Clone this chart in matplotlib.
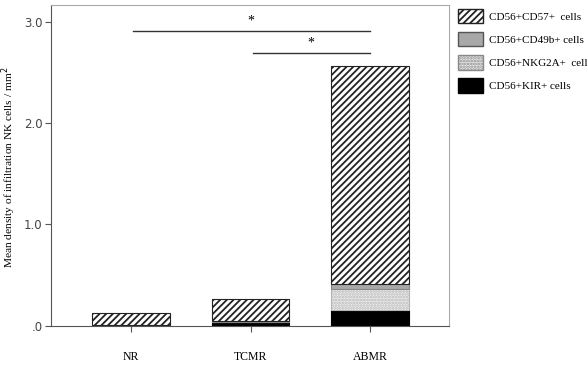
import numpy as np
import matplotlib
matplotlib.use("Agg")
import matplotlib.pyplot as plt
from matplotlib.patches import Patch

plt.rcParams['hatch.linewidth'] = 1.3
plt.rcParams['hatch.color'] = '#222222'

# data
groups = ['NR', 'TCMR', 'ABMR']
kir = [0.01, 0.04, 0.15]
nkg2a = [0.0, 0.0, 0.21]
cd49b = [0.0, 0.005, 0.05]
cd57 = [0.118, 0.215, 2.16]
legend_labels = ['CD56+CD57+  cells', 'CD56+CD49b+ cells', 'CD56+NKG2A+  cells', 'CD56+KIR+ cells']
y_ticks = [0.0, 1.0, 2.0, 3.0]
y_ticklabels = ['.0', '1.0', '2.0', '3.0']
sig_pairs = [(0, 2, 2.91), (1, 2, 2.69)]

serif = 'Liberation Serif'

fig = plt.figure(figsize=(5.87, 3.76), dpi=100)
ax = fig.add_axes([0.0869, 0.134, 0.678, 0.853])

x = np.arange(len(groups))
w = 0.65
bottom = np.zeros(len(groups))
ax.bar(x, kir, w, bottom=bottom, color='black', edgecolor='black', linewidth=0.8)
bottom += kir
ax.bar(x, nkg2a, w, bottom=bottom, color='#f0f0f0', edgecolor='#b5b5b5', hatch='......', linewidth=0.8)
bottom += nkg2a
ax.bar(x, cd49b, w, bottom=bottom, color='#a8a8a8', edgecolor='#888888', linewidth=0.8)
bottom += cd49b
ax.bar(x, cd57, w, bottom=bottom, color='white', edgecolor='#222222', hatch='/////', linewidth=0.8)

for a, b, yy in sig_pairs:
    ax.plot([a + 0.02, b], [yy, yy], color='#333333', lw=1.0)
    ax.text((a + b) / 2, yy + 0.04, '*', ha='center', va='bottom', fontsize=10, family=serif)

ax.set_xlim(-0.67, 2.66)
ax.set_ylim(0, 3.17)
ax.set_xticks(x)
ax.set_xticklabels(groups, family=serif, fontsize=8.5)
ax.set_yticks(y_ticks)
ax.set_yticklabels(y_ticklabels, fontsize=8.5, color='#444444')
ax.tick_params(axis='x', length=4, pad=14, color='#555555')
ax.tick_params(axis='y', length=4, pad=2, color='#555555')
for s in ax.spines.values():
    s.set_color('#aaaaaa')
ax.spines['left'].set_color('#555555')
ax.spines['bottom'].set_color('#555555')
fig.text(0.015, 0.555, 'Mean density of infiltration NK cells / mm$^2$', family=serif,
         fontsize=8.2, rotation=90, ha='center', va='center')

handles = [
    Patch(facecolor='white', edgecolor='#222222', hatch='/////'),
    Patch(facecolor='#a8a8a8', edgecolor='#555555'),
    Patch(facecolor='#f0f0f0', edgecolor='#888888', hatch='......'),
    Patch(facecolor='black', edgecolor='black'),
]
fig.legend(handles, legend_labels, loc='upper left', bbox_to_anchor=(0.775, 0.985),
           frameon=False, prop={'family': serif, 'size': 8}, handlelength=2.2,
           handleheight=1.6, labelspacing=0.8, handletextpad=0.6,
           borderaxespad=0, borderpad=0.3)

fig.savefig('out.png', dpi=100)
